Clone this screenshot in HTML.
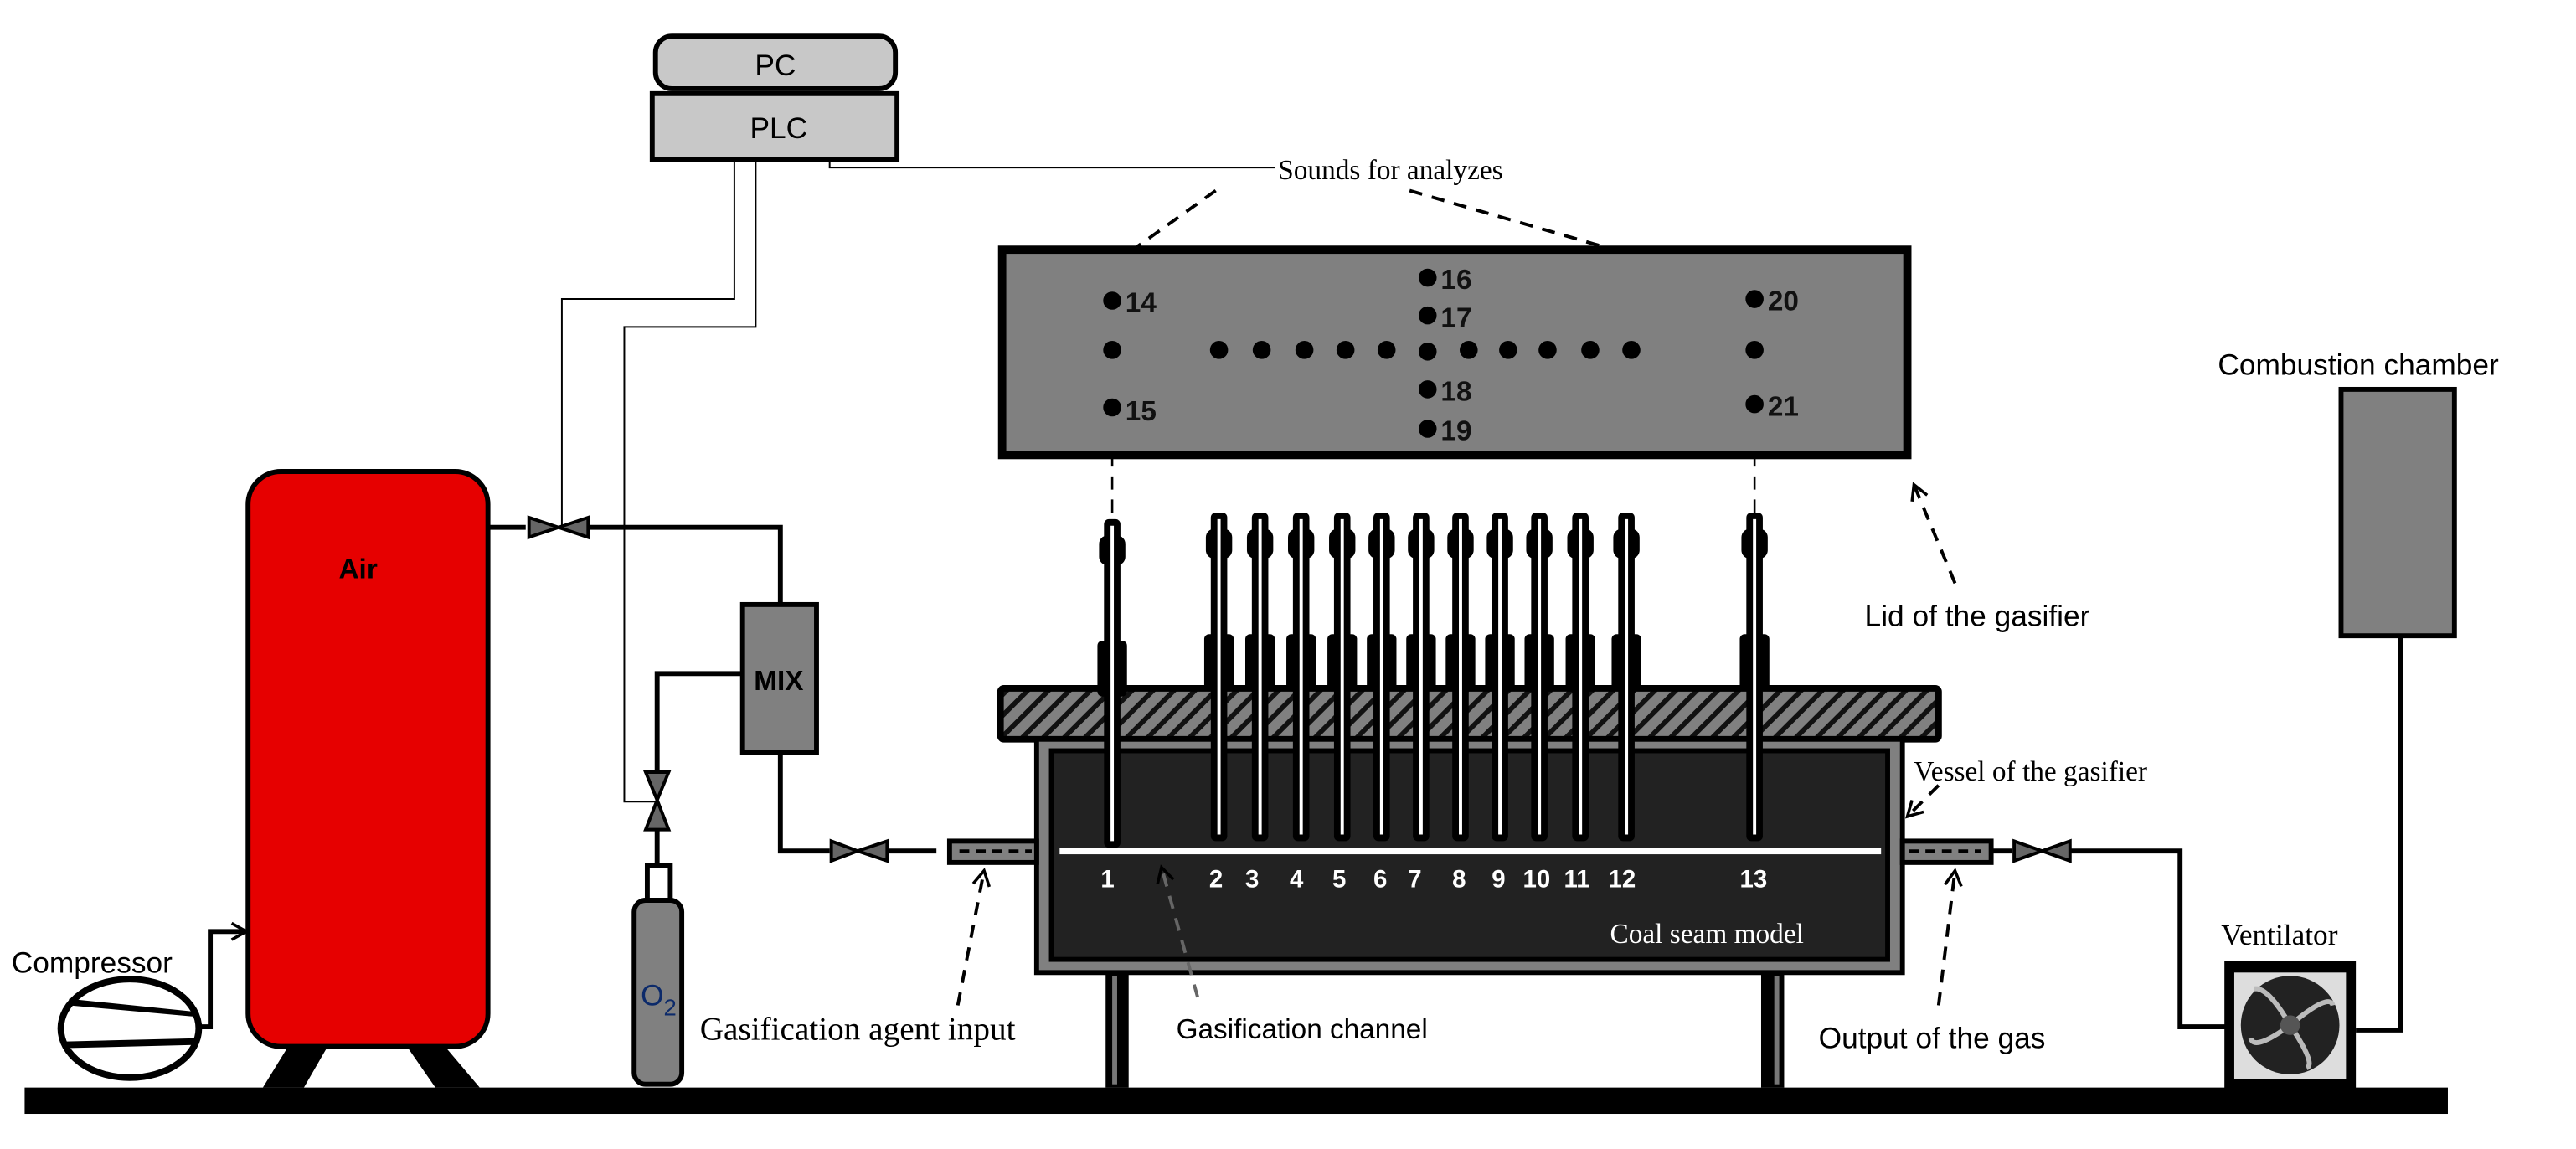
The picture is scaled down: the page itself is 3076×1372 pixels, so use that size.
<!DOCTYPE html>
<html><head><meta charset="utf-8"><style>html,body{margin:0;padding:0;background:#fff}svg{display:block}</style></head>
<body>
<svg width="3076" height="1372" viewBox="0 0 1568 699.4" preserveAspectRatio="none" xmlns="http://www.w3.org/2000/svg">
<defs>
<pattern id="hatch" width="9" height="9" patternUnits="userSpaceOnUse" patternTransform="rotate(45)">
<rect width="9" height="9" fill="#808080"/><rect width="3" height="9" fill="#111"/>
</pattern>
<marker id="ar" markerWidth="12" markerHeight="12" refX="10" refY="6" orient="auto" markerUnits="userSpaceOnUse"><path d="M1,1 L10,6 L1,11" fill="none" stroke="#000" stroke-width="1.8"/></marker>
<g id="probe">
<rect x="-5" y="0" width="10" height="200" rx="3" fill="#000"/>
<rect x="-8" y="10" width="16" height="18" rx="5" fill="#000"/>
<rect x="-9" y="74" width="18" height="34" rx="3" fill="#000"/>
<line x1="0" y1="4" x2="0" y2="196" stroke="#fff" stroke-width="2"/>
</g>
</defs>
<g font-family="Liberation Sans, sans-serif">
<rect x="15" y="662" width="1475" height="16" fill="#000"/>
<rect x="399" y="22" width="146" height="32" rx="10" fill="#c8c8c8" stroke="#000" stroke-width="3"/>
<text x="472" y="46" font-size="18" text-anchor="middle">PC</text>
<rect x="397" y="57" width="149" height="40" fill="#c8c8c8" stroke="#000" stroke-width="3"/>
<text x="474" y="84" font-size="18" text-anchor="middle">PLC</text>
<g fill="none" stroke="#000" stroke-width="1">
<polyline points="447,97 447,182 342,182 342,322"/>
<polyline points="460,97 460,199 380,199 380,488 399,488"/>
<polyline points="505,97 505,102 776,102"/>
</g>
<text x="778" y="109" font-size="17" font-family="Liberation Serif, serif">Sounds for analyzes</text>
<g fill="none" stroke="#000" stroke-width="2" stroke-dasharray="8,6">
<line x1="740" y1="116" x2="670" y2="166"/>
<line x1="858" y1="116" x2="1072" y2="178"/>
<line x1="677" y1="262" x2="677" y2="312" stroke-width="1.3"/>
<line x1="1068" y1="262" x2="1068" y2="312" stroke-width="1.3"/>
</g>
<rect x="610" y="152" width="551" height="125" fill="#808080" stroke="#000" stroke-width="5"/>
<g fill="#000" stroke="#000">
<circle cx="677" cy="183" r="5"/><circle cx="677" cy="213" r="5"/><circle cx="677" cy="248" r="5"/>
<circle cx="742" cy="213" r="5"/><circle cx="768" cy="213" r="5"/><circle cx="794" cy="213" r="5"/><circle cx="819" cy="213" r="5"/><circle cx="844" cy="213" r="5"/><circle cx="869" cy="214" r="5"/><circle cx="894" cy="213" r="5"/><circle cx="918" cy="213" r="5"/><circle cx="942" cy="213" r="5"/><circle cx="968" cy="213" r="5"/><circle cx="993" cy="213" r="5"/>
<circle cx="869" cy="169" r="5"/><circle cx="869" cy="192" r="5"/><circle cx="869" cy="237" r="5"/><circle cx="869" cy="261" r="5"/>
<circle cx="1068" cy="182" r="5"/><circle cx="1068" cy="213" r="5"/><circle cx="1068" cy="246" r="5"/>
</g>
<g font-size="17" font-weight="bold" fill="#111">
<text x="685" y="190">14</text><text x="685" y="256">15</text>
<text x="877" y="176">16</text><text x="877" y="199">17</text><text x="877" y="244">18</text><text x="877" y="268">19</text>
<text x="1076" y="189">20</text><text x="1076" y="253">21</text>
</g>
<rect x="609" y="419" width="571" height="31" rx="2" fill="url(#hatch)" stroke="#000" stroke-width="4"/>
<rect x="631" y="450" width="527" height="142" fill="#808080" stroke="#000" stroke-width="3"/>
<rect x="640" y="457" width="509" height="127" fill="#222" stroke="#000" stroke-width="3"/>
<rect x="645" y="516" width="500" height="4" fill="#fff"/>
<g>
<use href="#probe" x="677" y="316"/>
<use href="#probe" x="742" y="312"/><use href="#probe" x="767" y="312"/><use href="#probe" x="792" y="312"/><use href="#probe" x="817" y="312"/><use href="#probe" x="841" y="312"/><use href="#probe" x="865" y="312"/><use href="#probe" x="889" y="312"/><use href="#probe" x="913" y="312"/><use href="#probe" x="937" y="312"/><use href="#probe" x="962" y="312"/><use href="#probe" x="990" y="312"/>
<use href="#probe" x="1068" y="312"/>
</g>
<g font-size="15" font-weight="bold" fill="#fff">
<text x="670" y="540">1</text><text x="736" y="540">2</text><text x="758" y="540">3</text><text x="785" y="540">4</text><text x="811" y="540">5</text><text x="836" y="540">6</text><text x="857" y="540">7</text><text x="884" y="540">8</text><text x="908" y="540">9</text><text x="927" y="540">10</text><text x="952" y="540">11</text><text x="979" y="540">12</text><text x="1059" y="540">13</text>
</g>
<text x="980" y="574" font-size="17" fill="#fff" font-family="Liberation Serif, serif">Coal seam model</text>
<rect x="673" y="592" width="14" height="70" fill="#000"/><rect x="677" y="594" width="3" height="66" fill="#777"/>
<rect x="1072" y="592" width="14" height="70" fill="#000"/><rect x="1080" y="594" width="3" height="66" fill="#777"/>
<rect x="578" y="512" width="53" height="13" fill="#808080" stroke="#000" stroke-width="3"/>
<line x1="584" y1="518" x2="628" y2="518" stroke="#000" stroke-width="2" stroke-dasharray="6,4"/>
<rect x="1158" y="512" width="54" height="13" fill="#808080" stroke="#000" stroke-width="3"/>
<line x1="1162" y1="518" x2="1206" y2="518" stroke="#000" stroke-width="2" stroke-dasharray="6,4"/>
<g fill="none" stroke="#000" stroke-width="3">
<polyline points="297,321 320,321"/>
<polyline points="358,321 475,321 475,368"/>
<polyline points="475,458 475,518 505,518"/>
<polyline points="540,518 570,518"/>
<polyline points="452,410 400,410 400,470"/>
<polyline points="400,505 400,528"/>
<polyline points="1212,518 1225,518"/>
<polyline points="1260,518 1327,518 1327,625 1355,625"/>
<polyline points="1461,388 1461,627 1434,627"/>
<polyline points="120,625 128,625 128,567 150,567" marker-end="url(#ar)"/>
</g>
<g fill="#666" stroke="#000" stroke-width="2">
<path d="M322,315 L340,321 L322,327Z M358,315 L340,321 L358,327Z"/>
<path d="M506,512 L522,518 L506,524Z M540,512 L522,518 L540,524Z"/>
<path d="M1226,512 L1243,518 L1226,524Z M1260,512 L1243,518 L1260,524Z"/>
<path d="M393,470 L400,487 L407,470Z M393,505 L400,487 L407,505Z"/>
</g>
<rect x="452" y="368" width="45" height="90" fill="#808080" stroke="#000" stroke-width="3"/>
<text x="474" y="420" font-size="17" font-weight="bold" text-anchor="middle">MIX</text>
<rect x="394" y="527" width="14" height="22" fill="#fff" stroke="#000" stroke-width="3"/>
<rect x="386" y="548" width="29" height="112" rx="7" fill="#808080" stroke="#000" stroke-width="3"/>
<text x="390" y="612" font-size="18" fill="#0c2a6a">O<tspan font-size="14" dy="6">2</tspan></text>
<path d="M158,636 L176,636 L160,662 L185,662 L200,636Z" fill="#000"/>
<path d="M247,636 L270,636 L292,662 L265,662Z" fill="#000"/>
<rect x="151" y="287" width="146" height="350" rx="20" fill="#e60000" stroke="#000" stroke-width="3"/>
<text x="218" y="352" font-size="17" font-weight="bold" text-anchor="middle">Air</text>
<ellipse cx="79" cy="626" rx="42" ry="30" fill="#fff" stroke="#000" stroke-width="4"/>
<path d="M42,608 L120,616 L120,619 L42,612Z M38,634 L120,632 L120,636 L40,638Z" fill="#000"/>
<text x="7" y="592" font-size="18">Compressor</text>
<rect x="1425" y="237" width="69" height="150" fill="#808080" stroke="#000" stroke-width="3"/>
<text x="1350" y="228" font-size="18">Combustion chamber</text>
<rect x="1354" y="585" width="80" height="80" fill="#000"/>
<rect x="1360" y="592" width="68" height="65" fill="#ddd"/>
<circle cx="1394" cy="624" r="30" fill="#222"/>
<path d="M1394,624 Q1380,600 1372,602 M1394,624 Q1418,604 1420,612 M1394,624 Q1410,648 1404,650 M1394,624 Q1372,640 1370,632" stroke="#bbb" stroke-width="3" fill="none"/>
<circle cx="1394" cy="624" r="6" fill="#555"/>
<text x="1352" y="575" font-size="18" font-family="Liberation Serif, serif">Ventilator</text>
<text x="426" y="633" font-size="20" font-family="Liberation Serif, serif">Gasification agent input</text>
<text x="716" y="632" font-size="17">Gasification channel</text>
<text x="1107" y="638" font-size="18">Output of the gas</text>
<text x="1165" y="475" font-size="17" font-family="Liberation Serif, serif">Vessel of the gasifier</text>
<text x="1135" y="381" font-size="18">Lid of the gasifier</text>
<g fill="none" stroke="#000" stroke-width="2" stroke-dasharray="8,6">
<line x1="583" y1="612" x2="599" y2="530" marker-end="url(#ar)"/>
<line x1="729" y1="607" x2="707" y2="528" marker-end="url(#ar)" stroke="#666"/>
<line x1="1180" y1="612" x2="1190" y2="530" marker-end="url(#ar)"/>
<line x1="1180" y1="478" x2="1161" y2="497" marker-end="url(#ar)"/>
<line x1="1190" y1="355" x2="1165" y2="295" marker-end="url(#ar)"/>
</g>
</g>
</svg>
</body></html>
